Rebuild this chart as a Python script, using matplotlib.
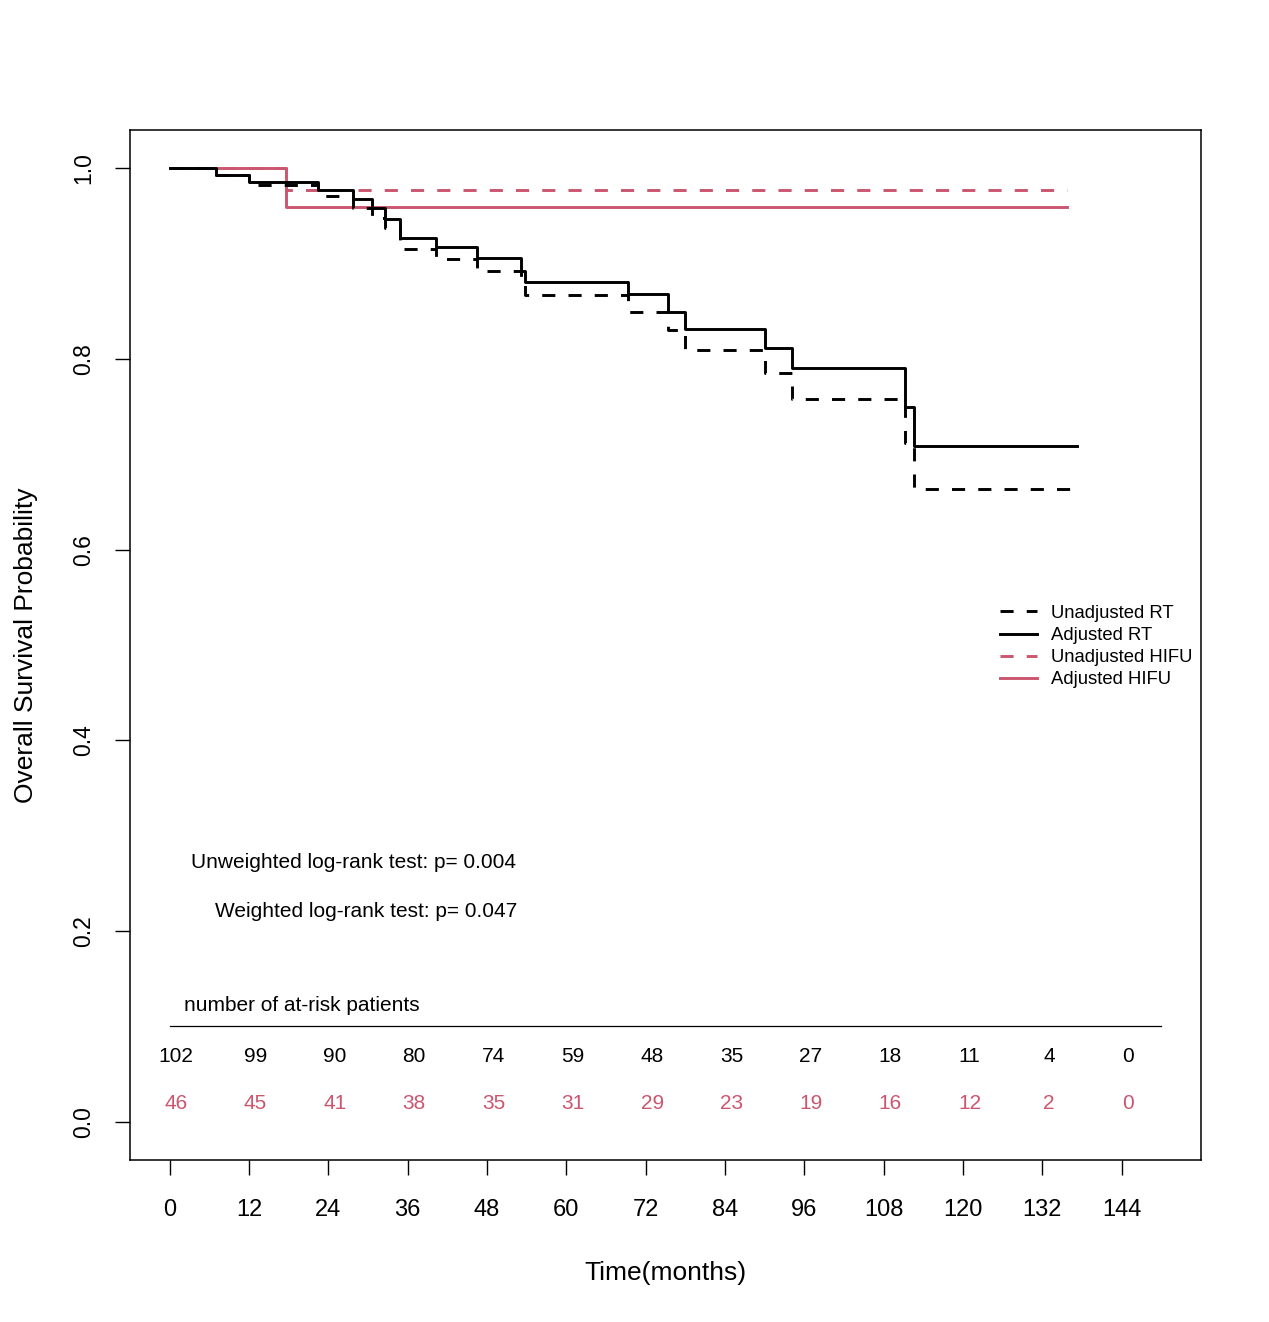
#!/usr/bin/env python3
"""
Curve di sopravvivenza globale (Kaplan-Meier) RT vs HIFU, grezze e pesate.
Genera out.png
"""

import matplotlib
matplotlib.use('Agg')
import matplotlib.pyplot as plt
import numpy as np

plt.rcParams['font.family'] = ['Liberation Sans', 'DejaVu Sans']

COLOR_RT = 'black'
COLOR_HIFU = '#CB566F'

# ── Dati ─────────────────────────────────────────────────────────────────────
rt_time = [0, 7.0, 12.0, 22.4, 27.7, 30.6, 32.6, 34.8, 40.3, 46.5, 53.1,
           53.7, 69.4, 75.4, 77.9, 90.0, 94.1, 111.2, 112.6, 137.3]
rt_unadj = [1.0, 0.993, 0.982, 0.971, 0.958, 0.948, 0.937, 0.915, 0.905,
            0.892, 0.880, 0.867, 0.849, 0.830, 0.809, 0.785, 0.758, 0.712,
            0.664, 0.664]
rt_adj = [1.0, 0.993, 0.986, 0.977, 0.968, 0.958, 0.947, 0.927, 0.917,
          0.906, 0.892, 0.881, 0.868, 0.849, 0.831, 0.811, 0.790, 0.750,
          0.709, 0.709]

hifu_time = [0, 17.6, 135.7]
hifu_unadj = [1.0, 0.977, 0.977]
hifu_adj = [1.0, 0.9595, 0.9595]

risk_times = [0, 12, 24, 36, 48, 60, 72, 84, 96, 108, 120, 132, 144]
risk_rt = [102, 99, 90, 80, 74, 59, 48, 35, 27, 18, 11, 4, 0]
risk_hifu = [46, 45, 41, 38, 35, 31, 29, 23, 19, 16, 12, 2, 0]

p_unweighted = 0.004
p_weighted = 0.047


def main():
    fig = plt.figure(figsize=(12.69, 13.22), dpi=100)
    ax = fig.add_axes([130 / 1269, 1 - 1160 / 1322, 1071 / 1269, 1030 / 1322])

    lw = 2.1
    dash = (4.5, 4.5)
    ax.step(hifu_time, hifu_unadj, where='post', color=COLOR_HIFU, lw=lw,
            dashes=dash, label='Unadjusted HIFU')
    ax.step(hifu_time, hifu_adj, where='post', color=COLOR_HIFU, lw=lw,
            label='Adjusted HIFU')
    ax.step(rt_time, rt_unadj, where='post', color=COLOR_RT, lw=lw,
            dashes=dash, label='Unadjusted RT')
    ax.step(rt_time, rt_adj, where='post', color=COLOR_RT, lw=lw,
            label='Adjusted RT')

    # Assi in stile R (4% di margine)
    ax.set_xlim(-6, 156)
    ax.set_ylim(-0.04, 1.04)
    ax.set_xticks(risk_times)
    ax.set_yticks(np.arange(0, 1.01, 0.2))
    ax.set_yticklabels([f'{v:.1f}' for v in np.arange(0, 1.01, 0.2)],
                       rotation=90, va='center')
    ax.tick_params(axis='x', labelsize=17, length=11, width=1, pad=17)
    ax.tick_params(axis='y', labelsize=16.5, length=11, width=1, pad=14)
    for s in ax.spines.values():
        s.set_linewidth(1.1)
    ax.set_xlabel('Time(months)', fontsize=19, labelpad=29)
    ax.set_ylabel('Overall Survival Probability', fontsize=19, labelpad=25)

    # Legenda
    handles, labels = ax.get_legend_handles_labels()
    order = [2, 3, 0, 1]
    ax.legend([handles[i] for i in order], [labels[i] for i in order],
              loc='upper left', bbox_to_anchor=(0.812, 0.539), frameon=False,
              fontsize=13.3, handlelength=2.0, handletextpad=0.8,
              labelspacing=0.28, borderpad=0, borderaxespad=0)

    # Test log-rank
    ax.text(3.3, 0.2715, f'Unweighted log-rank test: p= {p_unweighted}',
            fontsize=15, ha='left', va='center')
    ax.text(6.8, 0.221, f'Weighted log-rank test: p= {p_weighted}',
            fontsize=15, ha='left', va='center')

    # Tabella pazienti a rischio
    ax.text(20, 0.1216, 'number of at-risk patients', fontsize=15,
            ha='center', va='center')
    ax.plot([0, 150], [0.1, 0.1], color='black', lw=0.9)
    for t, n_rt, n_hf in zip(risk_times, risk_rt, risk_hifu):
        ax.text(t + 1, 0.069, str(n_rt), fontsize=15, ha='center',
                va='center', color=COLOR_RT)
        ax.text(t + 1, 0.0189, str(n_hf), fontsize=15, ha='center',
                va='center', color=COLOR_HIFU)

    fig.savefig('out.png', dpi=100)


if __name__ == '__main__':
    main()
